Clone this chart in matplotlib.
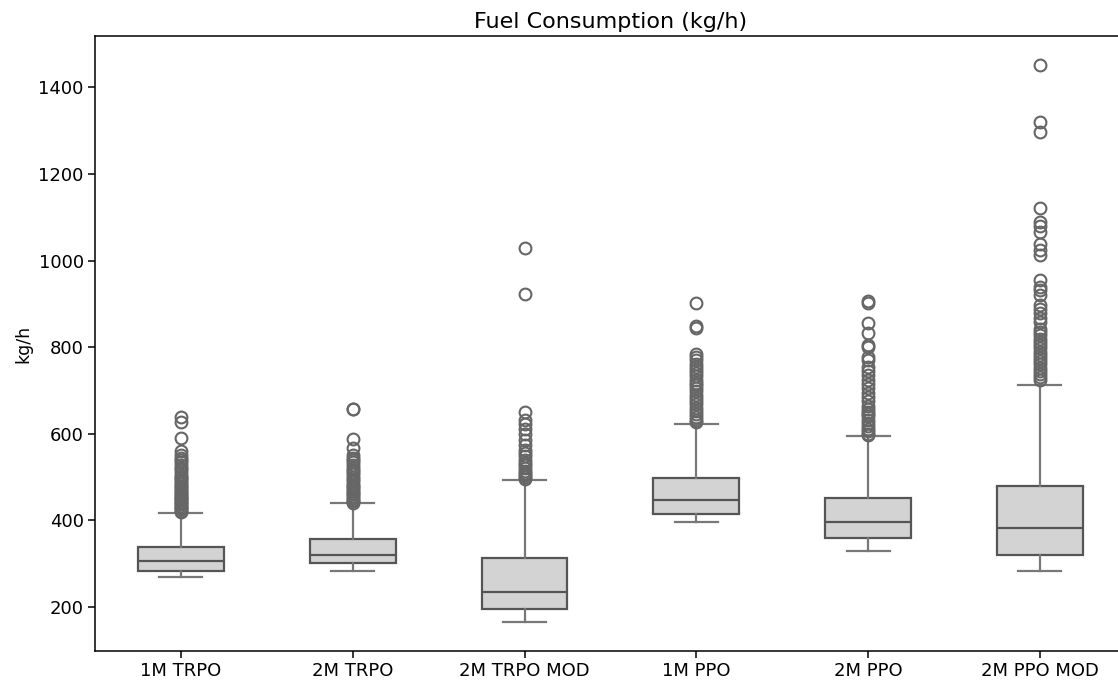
import matplotlib
matplotlib.use("Agg")
import matplotlib.pyplot as plt

# fuel consumption summary per agent (kg/h)
labels = ["1M TRPO", "2M TRPO", "2M TRPO MOD", "1M PPO", "2M PPO", "2M PPO MOD"]
medians = [305, 321, 235, 446, 397, 382]
q1s = [283, 302, 195, 415, 360, 320]
q3s = [339, 357, 314, 498, 452, 479]
whislo = [268, 284, 164, 397, 329, 283]
whishi = [418, 440, 492, 622, 594, 712]

fliers = [
    [638, 626, 591, 560, 551, 545, 540, 535, 528, 522, 518, 512, 505, 500, 497,
     492, 488, 485, 480, 476, 472, 468, 465, 461, 458, 455, 452, 449, 446, 443,
     440, 437, 434, 431, 428, 425, 422, 420],
    [658, 657, 589, 566, 551, 545, 540, 534, 528, 522, 517, 512, 506, 500, 495,
     490, 485, 480, 476, 472, 468, 464, 460, 456, 452, 448, 444, 441],
    [1029, 922, 651, 631, 622, 612, 600, 585, 575, 562, 555, 548, 540, 533, 527,
     520, 515, 510, 505, 500, 496],
    [901, 848, 845, 785, 778, 770, 762, 755, 748, 740, 733, 725, 718, 712, 705,
     698, 690, 682, 675, 668, 660, 652, 645, 638, 632, 627],
    [907, 901, 857, 832, 805, 800, 778, 770, 755, 745, 735, 725, 715, 705, 695,
     685, 675, 665, 658, 650, 645, 640, 632, 625, 618, 612, 606, 600, 596],
    [1453, 1320, 1297, 1122, 1090, 1080, 1066, 1038, 1024, 1012, 955, 940, 932,
     920, 897, 888, 878, 868, 858, 843, 835, 828, 820, 812, 805, 797, 790, 782,
     775, 768, 760, 752, 745, 738, 730, 724],
]

stats = []
for i, name in enumerate(labels):
    stats.append({
        "label": name,
        "med": medians[i],
        "q1": q1s[i],
        "q3": q3s[i],
        "whislo": whislo[i],
        "whishi": whishi[i],
        "fliers": fliers[i],
    })

fig = plt.figure(figsize=(11.18, 6.87), dpi=100)
ax = fig.add_axes([0.085, 0.053, 0.922, 0.894])

edge = "#555555"
lw = 1.6
ax.bxp(stats, positions=range(len(labels)), widths=0.5, capwidths=0.25,
       patch_artist=True,
       boxprops=dict(facecolor="lightgray", edgecolor=edge, linewidth=lw),
       medianprops=dict(color=edge, linewidth=lw),
       whiskerprops=dict(color="#787878", linewidth=lw),
       capprops=dict(color="#787878", linewidth=lw),
       flierprops=dict(marker="o", markersize=8.5, markerfacecolor="none",
                       markeredgecolor="#666666", markeredgewidth=1.5))

ax.set_xlim(-0.5, 5.5)
ax.set_ylim(99, 1518)
ax.set_yticks([200, 400, 600, 800, 1000, 1200, 1400])
ax.set_xticks(range(len(labels)))
ax.set_xticklabels(labels)
ax.tick_params(labelsize=13, length=4.7, width=1.1)
for sp in ax.spines.values():
    sp.set_linewidth(1.1)
ax.set_ylabel("kg/h", fontsize=12.5)
ax.set_title("Fuel Consumption (kg/h)", fontsize=16)

fig.savefig("out.png", dpi=100)
